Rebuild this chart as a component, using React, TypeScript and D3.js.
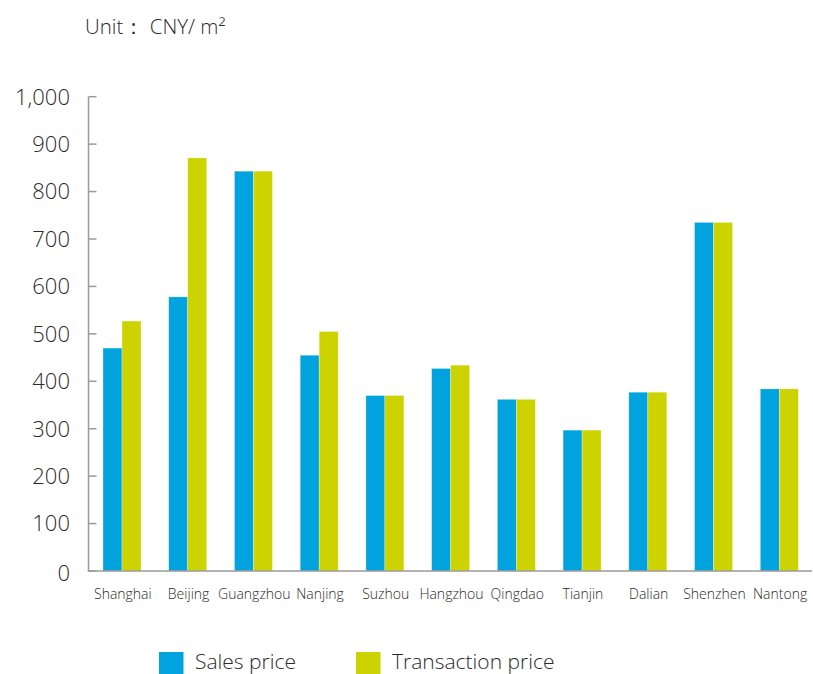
import React from "react";
import * as d3 from "d3";

const categories = ["Shanghai", "Beijing", "Guangzhou", "Nanjing", "Suzhou", "Hangzhou", "Qingdao", "Tianjin", "Dalian", "Shenzhen", "Nantong"];
const salesPrice = [470, 578, 843, 455, 370, 427, 362, 297, 377, 735, 384];
const transactionPrice = [527, 871, 843, 505, 370, 434, 362, 297, 377, 735, 384];
const yTicks = [0, 100, 200, 300, 400, 500, 600, 700, 800, 900, 1000];
const seriesNames = ["Sales price", "Transaction price"];
const seriesColors = ["#00A3DE", "#CCD300"];

const W = 813;
const H = 674;
const FONT = "'Open Sans', 'Noto Sans', sans-serif";

export default function App() {
  const x = d3.scaleBand<string>().domain(categories).range([89, 812]).paddingInner(0).paddingOuter(0);
  const sub = d3.scaleBand<string>().domain(["s", "t"]).range([14, 52]);
  const y = d3.scaleLinear().domain([0, 1000]).range([571, 96.7]);
  const fmt = d3.format(",");
  const axisX = 88.5;
  const series = [salesPrice, transactionPrice];

  return (
    <svg width={W} height={H} style={{ position: "absolute", left: 0, top: 0, background: "#fff" }} fontFamily={FONT} fontWeight={300}>
      <text x={85} y={34} fontSize={20.5} fill="#2b2b2b">Unit： CNY/ m²</text>

      {/* bars */}
      {categories.map((c, i) => (
        <g key={c} transform={`translate(${x(c)},0)`}>
          {series.map((s, k) => (
            <rect
              key={k}
              x={sub(k === 0 ? "s" : "t")}
              width={sub.bandwidth()}
              y={y(s[i])}
              height={y(0) - y(s[i])}
              fill={seriesColors[k]}
              stroke="#ffffff"
              strokeOpacity={0.5}
              strokeWidth={0.6}
            />
          ))}
        </g>
      ))}

      {/* y axis */}
      <line x1={axisX} x2={axisX} y1={y(1000)} y2={y(0)} stroke="#9a9a9a" strokeWidth={1.5} />
      {yTicks.map((t) => (
        <g key={t}>
          <line x1={axisX} x2={axisX + 8} y1={y(t)} y2={y(t)} stroke="#9a9a9a" strokeWidth={1.5} />
          <text x={70} y={y(t) + (t === 0 ? 2 : 0)} dy="0.36em" textAnchor="end" fontSize={22} fill="#2b2b2b">{fmt(t)}</text>
        </g>
      ))}

      {/* x axis */}
      <line x1={axisX - 0.75} x2={812} y1={y(0)} y2={y(0)} stroke="#9a9a9a" strokeWidth={1.5} />
      {categories.map((c) => (
        <text key={c} x={(x(c) as number) + x.bandwidth() / 2 + 1} y={599} textAnchor="middle" fontSize={14} fill="#2b2b2b">{c}</text>
      ))}

      {/* legend */}
      <rect x={159} y={652} width={24.5} height={24} fill={seriesColors[0]} />
      <text x={195} y={669} fontSize={21} fill="#2b2b2b">{seriesNames[0]}</text>
      <rect x={356} y={652} width={24.5} height={24} fill={seriesColors[1]} />
      <text x={392} y={669} fontSize={21} fill="#2b2b2b">{seriesNames[1]}</text>
    </svg>
  );
}
